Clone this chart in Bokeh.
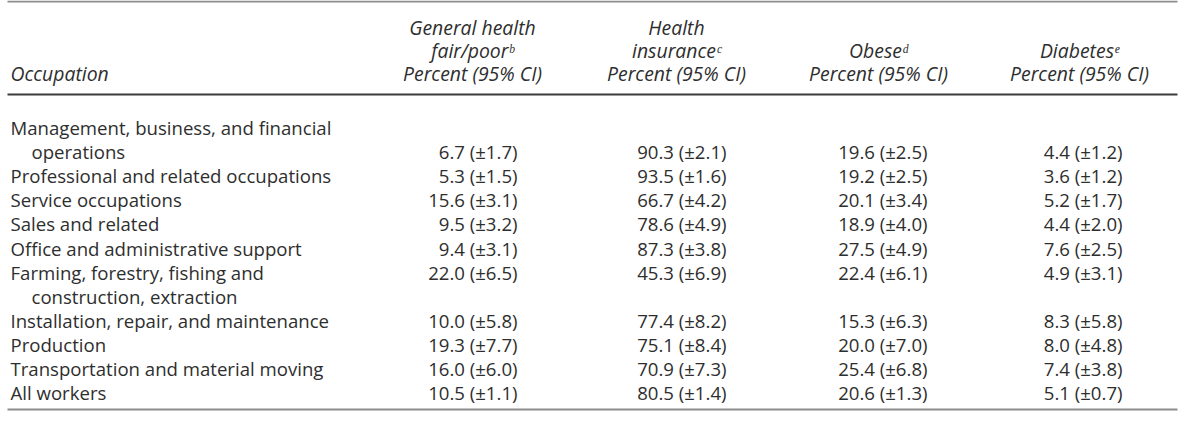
from bokeh.plotting import figure
from bokeh.models import Range1d, ColumnDataSource
from bokeh.core.properties import value
from bokeh.embed import file_html
from bokeh.resources import INLINE

# ---------------- data ----------------
occupations = [
    ["Management, business, and financial", "operations"],
    ["Professional and related occupations"],
    ["Service occupations"],
    ["Sales and related"],
    ["Office and administrative support"],
    ["Farming, forestry, fishing and", "construction, extraction"],
    ["Installation, repair, and maintenance"],
    ["Production"],
    ["Transportation and material moving"],
    ["All workers"],
]
value_line = [1, 0, 0, 0, 0, 0, 0, 0, 0, 0]  # which label line carries the numbers

headers = [
    ["General health", "fair/poor\u1d47", "Percent (95% CI)"],
    ["Health", "insurance\u1d9c", "Percent (95% CI)"],
    ["Obese\u1d48", "Percent (95% CI)"],
    ["Diabetes\u1d49", "Percent (95% CI)"],
]
general_health = [6.7, 5.3, 15.6, 9.5, 9.4, 22.0, 10.0, 19.3, 16.0, 10.5]
general_health_ci = [1.7, 1.5, 3.1, 3.2, 3.1, 6.5, 5.8, 7.7, 6.0, 1.1]
insurance = [90.3, 93.5, 66.7, 78.6, 87.3, 45.3, 77.4, 75.1, 70.9, 80.5]
insurance_ci = [2.1, 1.6, 4.2, 4.9, 3.8, 6.9, 8.2, 8.4, 7.3, 1.4]
obese = [19.6, 19.2, 20.1, 18.9, 27.5, 22.4, 15.3, 20.0, 25.4, 20.6]
obese_ci = [2.5, 2.5, 3.4, 4.0, 4.9, 6.1, 6.3, 7.0, 6.8, 1.3]
diabetes = [4.4, 3.6, 5.2, 4.4, 7.6, 4.9, 8.3, 8.0, 7.4, 5.1]
diabetes_ci = [1.2, 1.2, 1.7, 2.0, 2.5, 3.1, 5.8, 4.8, 3.8, 0.7]

# ---------------- layout ----------------
W, H = 1184, 411
FONT = value("Open Sans")
FS = "18.6px"
HFS = "19.4px"
TXT = "#2e2e2e"

p = figure(width=W, height=H, output_backend="svg", toolbar_location=None,
           x_range=Range1d(8, 8 + W), y_range=Range1d(8 + H, 8),
           min_border=0, outline_line_color=None)
p.axis.visible = False
p.grid.visible = False
p.background_fill_color = "white"
p.border_fill_color = "white"

x_left, x_right = 15, 1185
line_top, line_head, line_bot = 9, 102, 417
head_y = [35, 58, 81]
row0, dy = 135, 24.1
label_x, indent = 18, 21
col_center = [480, 684, 886, 1087]
col_right = [525, 734, 935, 1130]

# rules
p.segment(x0=[x_left, x_left], y0=[line_top, line_bot], x1=[x_right, x_right],
          y1=[line_top, line_bot], line_color="#8c8c8c", line_width=2)
p.segment(x0=[x_left], y0=[line_head], x1=[x_right], y1=[line_head],
          line_color="#3c3c3c", line_width=2)

# header
p.text(x=[label_x], y=[head_y[2]], text=["Occupation"], text_font=FONT,
       text_font_size=HFS, text_font_style="italic", text_color=TXT,
       text_baseline="middle", text_align="left")
hx, hy, ht = [], [], []
for c, lines in enumerate(headers):
    start = 3 - len(lines)
    for k, s in enumerate(lines):
        hx.append(col_center[c]); hy.append(head_y[start + k]); ht.append(s)
p.text(x=hx, y=hy, text=ht, text_font=FONT, text_font_size=HFS,
       text_font_style="italic", text_color=TXT, text_baseline="middle",
       text_align="center")

# body labels
lx, ly, lt = [], [], []
vy = []
line_idx = 0
for i, lines in enumerate(occupations):
    for k, s in enumerate(lines):
        lx.append(label_x + (indent if k > 0 else 0))
        ly.append(row0 + (line_idx + k) * dy)
        lt.append(s)
    vy.append(row0 + (line_idx + value_line[i]) * dy)
    line_idx += len(lines)
p.text(x=lx, y=ly, text=lt, text_font=FONT, text_font_size=FS,
       text_color=TXT, text_baseline="middle", text_align="left")

# body values
series = [(general_health, general_health_ci), (insurance, insurance_ci),
          (obese, obese_ci), (diabetes, diabetes_ci)]
for c, (vals, cis) in enumerate(series):
    src = ColumnDataSource(dict(
        x=[col_right[c]] * len(vals), y=vy,
        t=[f"{v:.1f} (\u00b1{e:.1f})" for v, e in zip(vals, cis)]))
    p.text(x="x", y="y", text="t", source=src, text_font=FONT,
           text_font_size=FS, text_color=TXT, text_baseline="middle",
           text_align="right")

open("out.html", "w").write(file_html(p, INLINE))
